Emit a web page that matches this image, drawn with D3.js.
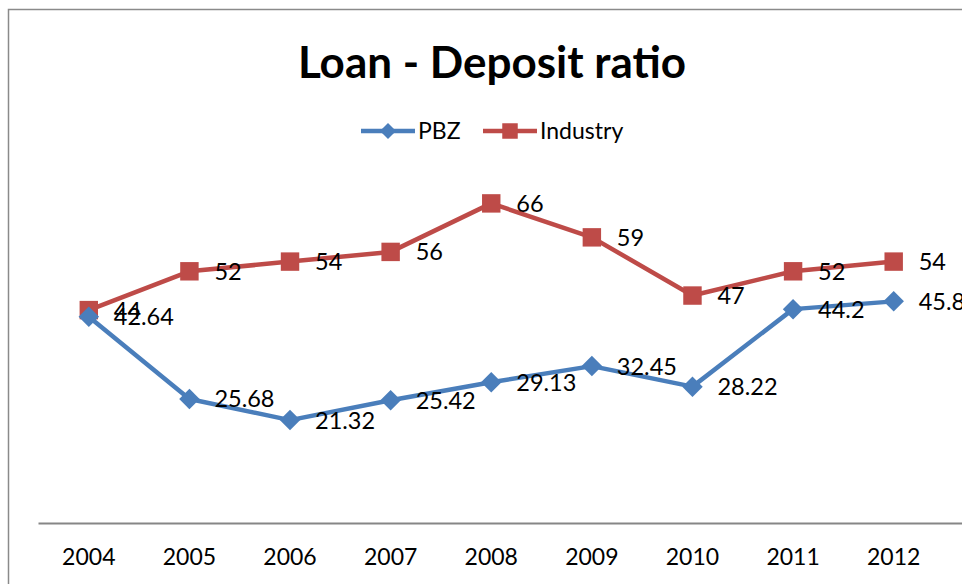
<!DOCTYPE html>
<html>
<head>
<meta charset="utf-8">
<script src="https://cdn.jsdelivr.net/npm/d3@7"></script>
<style>
  html, body { margin: 0; padding: 0; background: #fff; }
  svg { display: block; font-family: Lato, "Open Sans", sans-serif; }
</style>
</head>
<body>
<div id="chart"></div>
<script>
const years = ["2004","2005","2006","2007","2008","2009","2010","2011","2012"];
const pbz = [42.64, 25.68, 21.32, 25.42, 29.13, 32.45, 28.22, 44.2, 45.8];
const industry = [44, 52, 54, 56, 66, 59, 47, 52, 54];
const pbzLabels = ["42.64","25.68","21.32","25.42","29.13","32.45","28.22","44.2","45.8"];
const industryLabels = ["44","52","54","56","66","59","47","52","54"];
const seriesNames = ["PBZ", "Industry"];
const title = "Loan - Deposit ratio";

const W = 962, H = 584;
const blue = "#4A7EBB", red = "#BE4B48";

const svg = d3.select("#chart").append("svg").attr("width", W).attr("height", H);
svg.append("rect").attr("width", W).attr("height", H).attr("fill", "#fff");

// chart border
svg.append("rect").attr("x", 8.5).attr("y", 9.5).attr("width", 1000).attr("height", 700)
  .attr("fill", "none").attr("stroke", "#8a8a8a").attr("stroke-width", 1.5);

const x = d3.scaleBand().domain(years).range([38.5, 944]).padding(0);
const y = d3.scaleLinear().domain([0, 70]).range([523.5, 184]);
const cx = d => x(d) + x.bandwidth() / 2;

// title
svg.append("text").attr("x", 492).attr("y", 78).attr("text-anchor", "middle")
  .attr("font-weight", "bold").attr("font-size", 44).attr("fill", "#000").text(title);

// x axis
const xAxis = d3.axisBottom(x).tickSize(0).tickPadding(0);
const gx = svg.append("g").attr("transform", `translate(0,${y(0)})`).call(xAxis);
gx.select(".domain").attr("d", `M38.5,0H${W + 10}`).attr("stroke", "#868686").attr("stroke-width", 2);
gx.selectAll(".tick text").attr("font-size", 23).attr("fill", "#000")
  .attr("font-family", "Lato, sans-serif").attr("dy", "1.8em");

const line = d3.line().x((d, i) => cx(years[i])).y(d => y(d));

function markerPath(shape, size) {
  return d3.symbol().type(d3.symbolSquare).size(size)();
}

function drawSeries(vals, labels, color, shape) {
  svg.append("path").datum(vals).attr("d", line).attr("fill", "none")
    .attr("stroke", color).attr("stroke-width", 4.5).attr("stroke-linejoin", "round");
  const isDiamond = shape === "diamond";
  svg.selectAll(null).data(vals).enter().append("path")
    .attr("d", markerPath(shape, isDiamond ? 210 : 340))
    .attr("transform", (d, i) => `translate(${cx(years[i])},${y(d)})` + (isDiamond ? " rotate(45)" : ""))
    .attr("fill", color);
  svg.selectAll(null).data(vals).enter().append("text")
    .attr("x", (d, i) => cx(years[i]) + 25)
    .attr("y", d => y(d)).attr("dy", "0.36em")
    .attr("font-size", 23.5).attr("fill", "#000")
    .text((d, i) => labels[i]);
}

drawSeries(industry, industryLabels, red, "square");
drawSeries(pbz, pbzLabels, blue, "diamond");

// legend
const legend = [
  { name: seriesNames[0], color: blue, shape: "diamond", size: 130, x0: 361 },
  { name: seriesNames[1], color: red, shape: "square", size: 240, x0: 483 }
];
legend.forEach(l => {
  const g = svg.append("g").attr("transform", `translate(${l.x0},131)`);
  g.append("line").attr("x1", 0).attr("x2", 54).attr("stroke", l.color).attr("stroke-width", 4.5);
  g.append("path").attr("d", markerPath(l.shape, l.size))
    .attr("transform", "translate(27,0)" + (l.shape === "diamond" ? " rotate(45)" : "")).attr("fill", l.color);
  g.append("text").attr("x", 57).attr("dy", "0.36em").attr("font-size", 23).attr("fill", "#000").text(l.name);
});
</script>
</body>
</html>
